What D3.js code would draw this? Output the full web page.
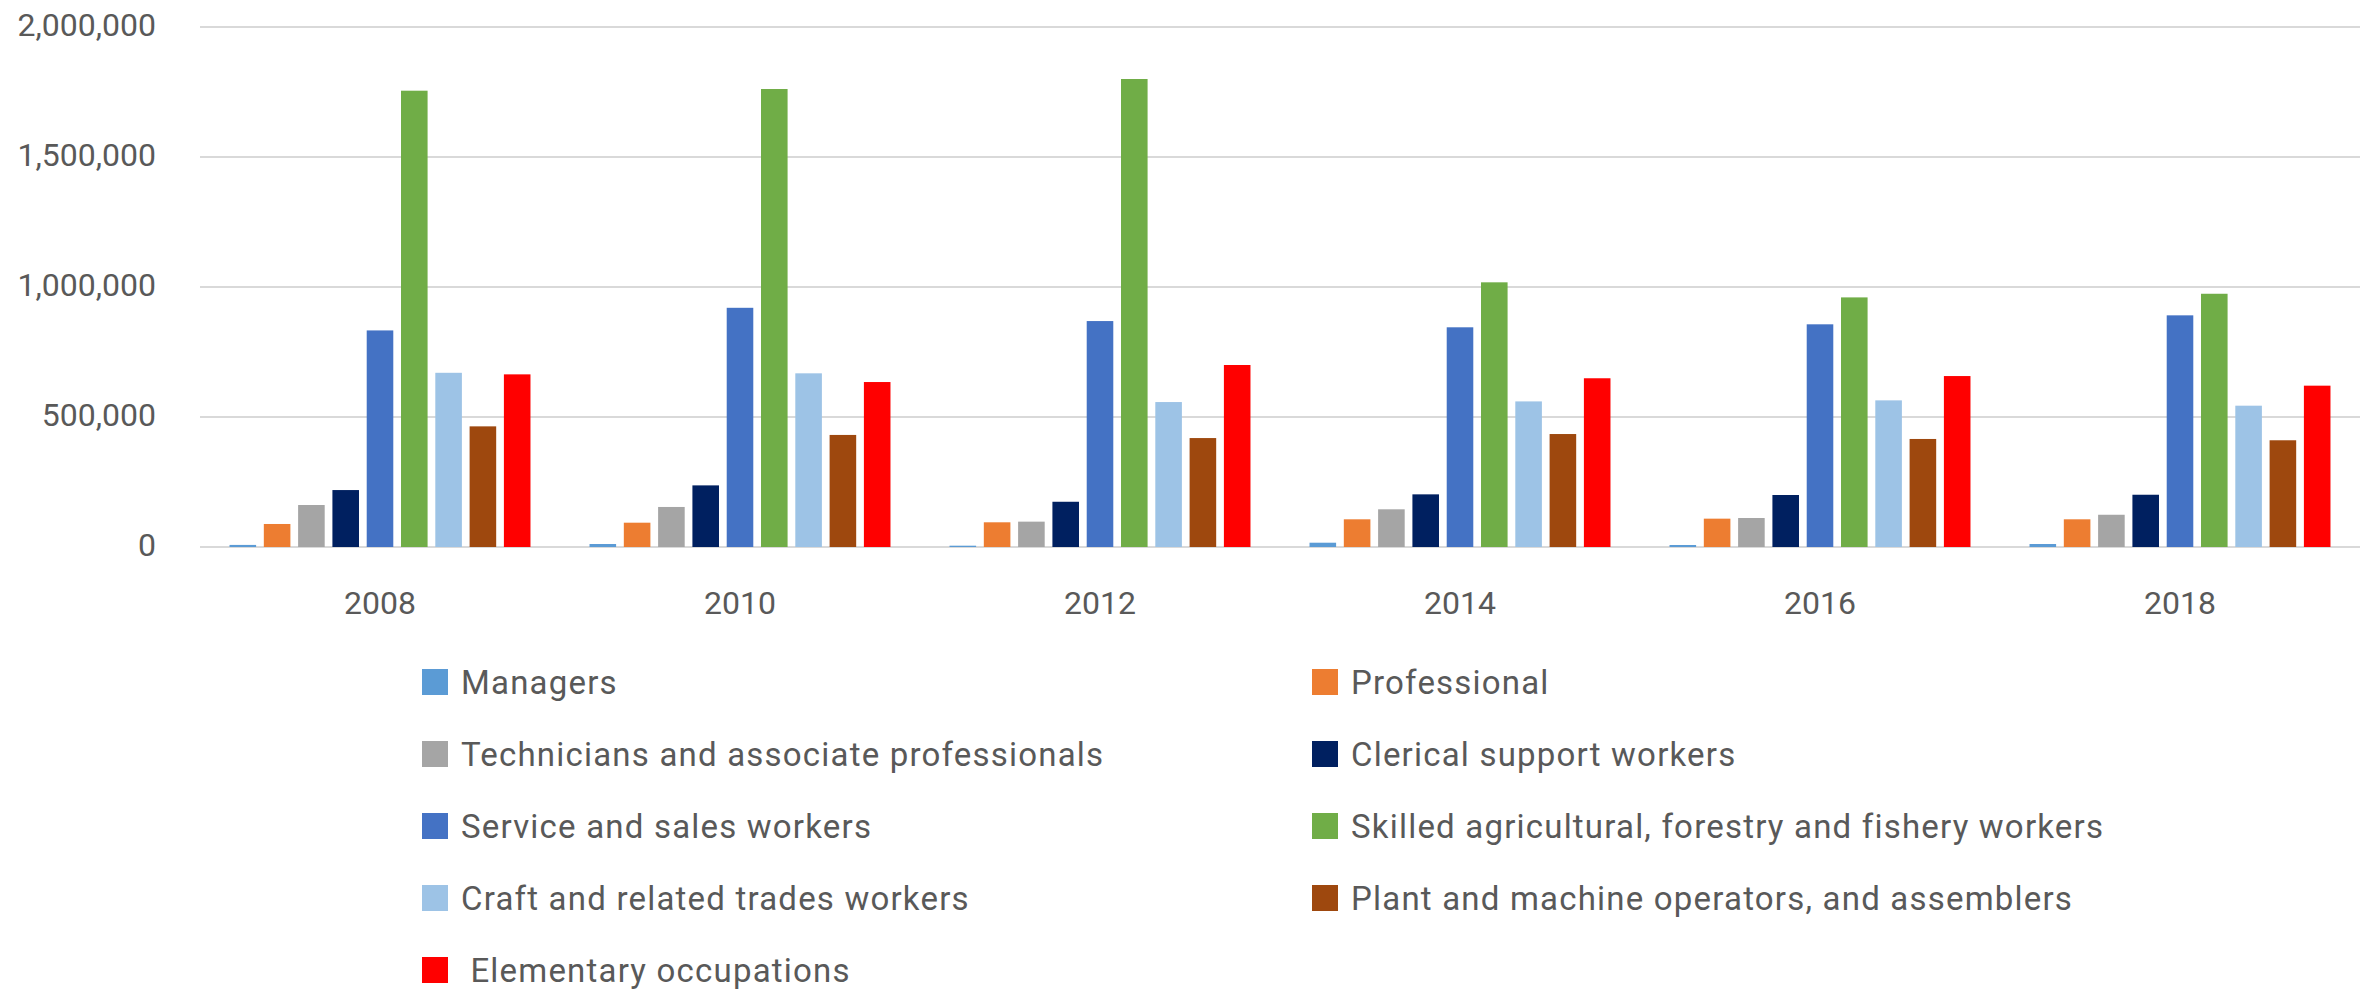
<!DOCTYPE html>
<html>
    <head>
        <meta charset="utf-8">
        <title>Employment by occupation</title>
        <style>
            body { margin: 0; background: #fff; }
            text { font-family: Roboto, "Noto Sans", sans-serif; fill: #595959; }
            .grid line { stroke: #d9d9d9; stroke-width: 2; }
            .legend text { white-space: pre; letter-spacing: 1.2px; }
        </style>
    </head>
    <body>
        <script src="https://d3js.org/d3.v7.min.js"></script>
        <script>
            // years on the x axis
            var years = ["2008", "2010", "2012", "2014", "2016", "2018"];

            // series names (legend order)
            var series = [
                "Managers",
                "Professional",
                "Technicians and associate professionals",
                "Clerical support workers",
                "Service and sales workers",
                "Skilled agricultural, forestry and fishery workers",
                "Craft and related trades workers",
                "Plant and machine operators, and assemblers",
                " Elementary occupations"
            ];

            var colors = ["#5b9bd5", "#ed7d31", "#a5a5a5", "#002060", "#4472c4",
                          "#70ad47", "#9dc3e6", "#9e480e", "#ff0000"];

            // values per series, one per year
            var managers     = [8000, 11500, 5000, 16500, 7700, 11500];
            var professional = [88500, 93500, 95000, 106500, 109000, 106500];
            var technicians  = [161500, 154000, 97500, 145000, 111500, 124000];
            var clerical     = [219000, 237000, 174000, 202500, 200000, 201000];
            var service      = [833000, 920000, 869000, 845000, 856500, 891000];
            var skilled      = [1755000, 1761500, 1800000, 1018000, 960000, 974000];
            var craft        = [670000, 668000, 557500, 560000, 564000, 543500];
            var plant        = [464000, 431000, 419000, 434500, 415500, 410500];
            var elementary   = [664000, 634500, 700000, 649000, 657500, 620500];

            var yTicks = [0, 500000, 1000000, 1500000, 2000000];

            var values = [managers, professional, technicians, clerical, service,
                          skilled, craft, plant, elementary];

            var width = 2374, height = 991;
            var plotLeft = 200, plotRight = 2360, plotTop = 27, plotBottom = 547;

            var svg = d3.select("body")
                .append("svg")
                .attr("width", width)
                .attr("height", height);

            // scales
            var x0 = d3.scaleBand()
                .domain(years)
                .range([plotLeft, plotRight]);

            var groupPad = x0.bandwidth() * 0.082;
            var x1 = d3.scaleBand()
                .domain(d3.range(series.length))
                .range([groupPad, x0.bandwidth() - groupPad])
                .paddingInner(0.225);

            var y = d3.scaleLinear()
                .domain([0, 2000000])
                .range([plotBottom, plotTop]);

            // gridlines
            svg.append("g")
                .attr("class", "grid")
                .selectAll("line")
                .data(yTicks)
                .enter()
                .append("line")
                .attr("x1", plotLeft)
                .attr("x2", plotRight)
                .attr("y1", function(d) { return y(d); })
                .attr("y2", function(d) { return y(d); });

            // y axis labels
            var yAxis = d3.axisLeft(y)
                .tickValues(yTicks)
                .tickSize(0)
                .tickPadding(0)
                .tickFormat(d3.format(","));

            var yG = svg.append("g")
                .attr("transform", "translate(156,0)")
                .call(yAxis);
            yG.select(".domain").remove();
            yG.selectAll("text")
                .attr("font-size", 32)
                .attr("font-family", null)
                .attr("dy", "0.25em");

            // x axis labels
            var xAxis = d3.axisBottom(x0)
                .tickSize(0)
                .tickPadding(0);

            var xG = svg.append("g")
                .attr("transform", "translate(0," + plotBottom + ")")
                .call(xAxis);
            xG.select(".domain").remove();
            xG.selectAll("text")
                .attr("font-size", 32)
                .attr("font-family", null)
                .attr("dy", 0)
                .attr("y", 67);

            // bars
            var groups = svg.append("g")
                .selectAll("g")
                .data(years)
                .enter()
                .append("g")
                .attr("transform", function(d) { return "translate(" + x0(d) + ",0)"; });

            groups.selectAll("rect")
                .data(function(d, yi) {
                    return values.map(function(v, si) { return {s: si, v: v[yi]}; });
                })
                .enter()
                .append("rect")
                .attr("x", function(d) { return x1(d.s); })
                .attr("width", x1.bandwidth())
                .attr("y", function(d) { return y(d.v); })
                .attr("height", function(d) { return plotBottom - y(d.v); })
                .attr("fill", function(d) { return colors[d.s]; });

            // legend, two columns
            var legend = svg.append("g")
                .attr("class", "legend")
                .selectAll("g")
                .data(series)
                .enter()
                .append("g")
                .attr("transform", function(d, i) {
                    var col = i % 2, row = Math.floor(i / 2);
                    return "translate(" + (col ? 1312 : 422) + "," + (682 + row * 72) + ")";
                });

            legend.append("rect")
                .attr("x", 0)
                .attr("y", -13)
                .attr("width", 26)
                .attr("height", 26)
                .attr("fill", function(d, i) { return colors[i]; });

            legend.append("text")
                .attr("x", 39)
                .attr("dy", "0.35em")
                .attr("font-size", 33)
                .text(function(d) { return d; });
        </script>
    </body>
</html>
